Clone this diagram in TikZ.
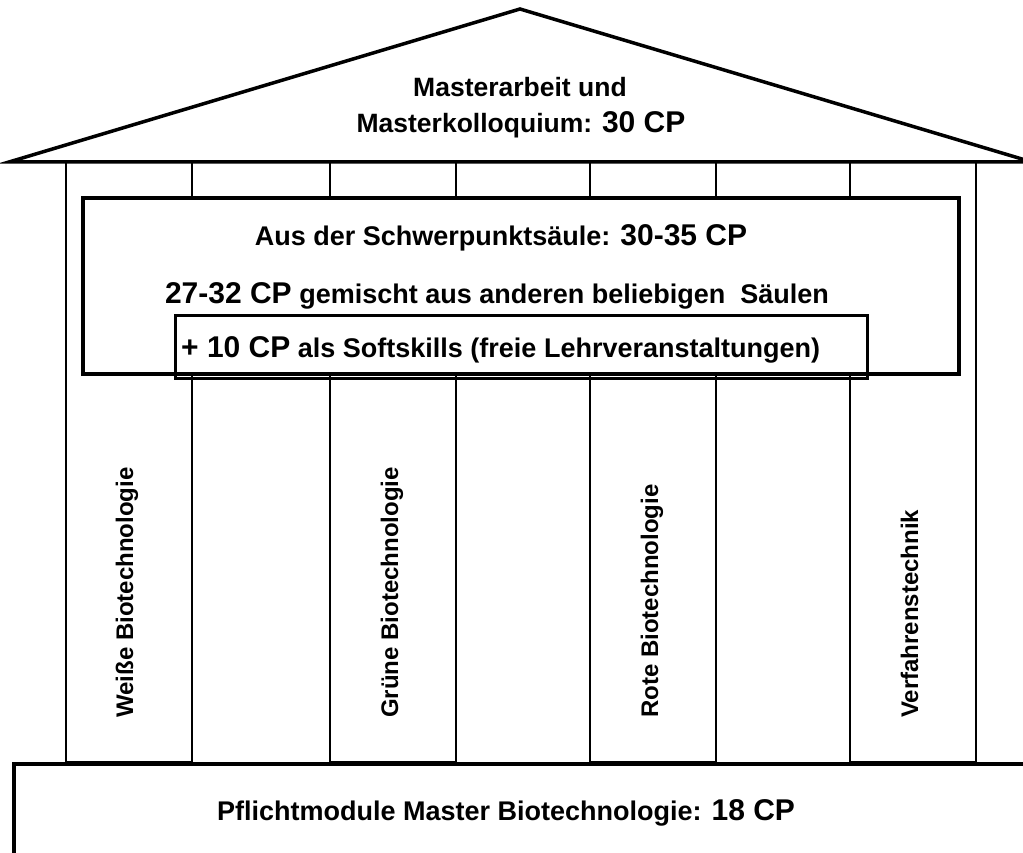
\documentclass[tikz,border=0pt]{standalone}
\usepackage{fontspec}
\setmainfont{Liberation Sans}
\newcommand{\cpbig}[1]{{\fontsize{30}{36}\selectfont #1}}

\begin{document}
\begin{tikzpicture}[x=1pt,y=-1pt]
    \tikzstyle{roofline}=[draw=black,line width=3.5pt,fill=white]
    \tikzstyle{pillar}=[draw=black,line width=2.5pt,fill=white]
    \tikzstyle{block}=[draw=black,line width=3.5pt,fill=white,inner sep=0pt]
    \tikzstyle{softbox}=[draw=black,line width=3pt,inner sep=0pt]
    \tikzstyle{plain}=[inner sep=0pt,anchor=base,font=\bfseries\fontsize{27}{32}\selectfont]
    \tikzstyle{pillartext}=[inner sep=0pt,rotate=90,anchor=base west,font=\bfseries\fontsize{24}{28}\selectfont]

    \useasboundingbox (0,0) rectangle (1023,853);
    \clip (0,0) rectangle (1023,853);

    \foreach \x in {66,330,590,850}
        \draw [pillar] (\x,162) rectangle ++(126,600);

    \node[pillartext] (weisse) at (133,718) {Weiße Biotechnologie};
    \node[pillartext] (gruene) at (398,718) {Grüne Biotechnologie};
    \node[pillartext] (rote) at (658,718) {Rote Biotechnologie};
    \node[pillartext] (verfahren) at (918,718) {Verfahrenstechnik};

    \draw [roofline] (9,162) -- (520,9) -- (1032,162) -- cycle;
    \node[plain,font=\bfseries\fontsize{26.5}{32}\selectfont] (roof1) at (520,97) {Masterarbeit und};
    \node[plain,font=\bfseries\fontsize{26.5}{32}\selectfont] (roof2) at (521,133) {Masterkolloquium: \cpbig{30 CP}};

    \node[block,minimum width=876pt,minimum height=176pt] (schwerpunkt) at (521,286) {};
    \node[plain] (schwerpunkttext) at (501,246) {Aus der Schwerpunktsäule: \cpbig{30-35 CP}};
    \node[plain] (gemischt) at (497,303) {\cpbig{27-32 CP} gemischt aus anderen beliebigen~ Säulen};

    \node[softbox,minimum width=692pt,minimum height=63pt] (softskills) at (521,346.5) {};
    \node[plain,anchor=base west] (softtext) at (181,357) {\cpbig{+ 10 CP} als Softskills (freie Lehrveranstaltungen)};

    \node[block,minimum width=1040pt,minimum height=120pt,anchor=north west] (pflicht) at (12,762) {};
    \node[plain] (pflichttext) at (506,820) {Pflichtmodule Master Biotechnologie: \cpbig{18 CP}};

\end{tikzpicture}
\end{document}
